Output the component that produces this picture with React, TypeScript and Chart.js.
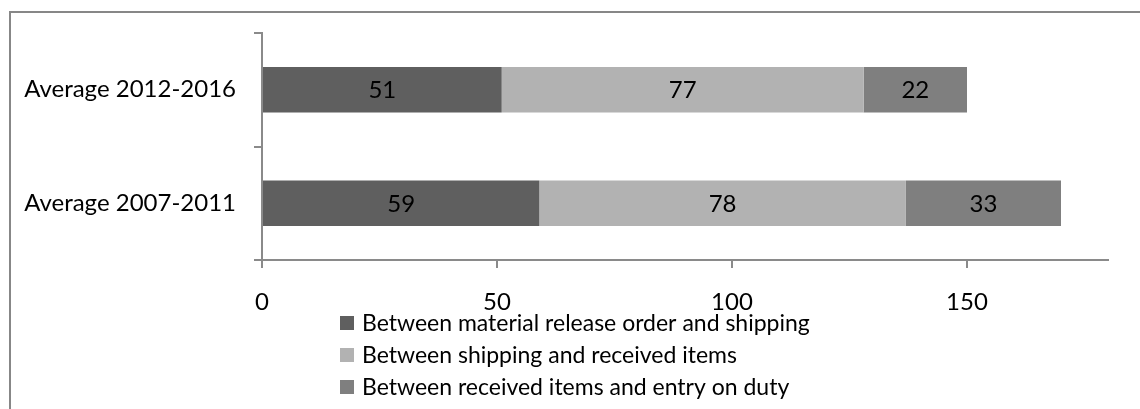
import React, { useEffect, useRef } from "react";
import { Chart, registerables } from "chart.js";

Chart.register(...registerables);

// Periods shown on the category axis (top to bottom)
const periods: string[] = ["Average 2012-2016", "Average 2007-2011"];

// Days spent in each stage of the process
const releaseToShipping: number[] = [51, 59];
const shippingToReceived: number[] = [77, 78];
const receivedToDuty: number[] = [22, 33];

const seriesNames: string[] = [
  "Between material release order and shipping",
  "Between shipping and received items",
  "Between received items and entry on duty",
];
const seriesColors: string[] = ["#5f5f5f", "#b2b2b2", "#7f7f7f"];

// Value axis
const axisMax = 180;
const axisStep = 50;

const FONT_FAMILY = "Lato, sans-serif";
const FONT_SIZE = 24;
const LEGEND_FONT_SIZE = 23;
const AXIS_COLOR = "#8a8a8a";

// Writes each segment's value in the middle of the segment
const valueLabels = {
  id: "valueLabels",
  afterDatasetsDraw(chart: Chart) {
    const ctx = chart.ctx;
    ctx.save();
    ctx.font = `${FONT_SIZE}px ${FONT_FAMILY}`;
    ctx.fillStyle = "#000";
    ctx.textAlign = "center";
    ctx.textBaseline = "middle";
    chart.data.datasets.forEach((ds, i) => {
      const meta = chart.getDatasetMeta(i);
      meta.data.forEach((el: any, j: number) => {
        const v = ds.data[j] as number;
        const cx = (el.x + el.base) / 2;
        ctx.fillText(String(v), cx, el.y + 1);
      });
    });
    ctx.restore();
  },
};

// Vertical legend listed under the value axis
const stackedLegend = {
  id: "stackedLegend",
  afterDraw(chart: Chart) {
    const ctx = chart.ctx;
    const boxX = 340;
    const textX = 362;
    const firstRow = 323;
    const rowGap = 32;
    const box = 14;
    ctx.save();
    ctx.font = `${LEGEND_FONT_SIZE}px ${FONT_FAMILY}`;
    ctx.textAlign = "left";
    ctx.textBaseline = "middle";
    chart.data.datasets.forEach((ds, i) => {
      const y = firstRow + i * rowGap;
      ctx.fillStyle = ds.backgroundColor as string;
      ctx.fillRect(boxX, y - box / 2, box, box);
      ctx.fillStyle = "#000";
      ctx.fillText(ds.label as string, textX, y + 1);
    });
    ctx.restore();
  },
};

export default function App() {
  const canvasRef = useRef<HTMLCanvasElement | null>(null);

  useEffect(() => {
    if (!canvasRef.current) return;
    const values = [releaseToShipping, shippingToReceived, receivedToDuty];
    const chart = new Chart(canvasRef.current, {
      type: "bar",
      data: {
        labels: periods,
        datasets: values.map((data, i) => ({
          label: seriesNames[i],
          data,
          backgroundColor: seriesColors[i],
          borderWidth: 0,
          categoryPercentage: 0.4,
          barPercentage: 1,
        })),
      },
      options: {
        indexAxis: "y",
        responsive: false,
        maintainAspectRatio: false,
        animation: false,
        layout: { padding: { top: 33, right: 32, left: 0, bottom: 0 } },
        plugins: {
          legend: { display: false },
          tooltip: { enabled: false },
          title: { display: false },
        },
        scales: {
          x: {
            stacked: true,
            min: 0,
            max: axisMax,
            ticks: {
              stepSize: axisStep,
              color: "#000",
              padding: 20,
              font: { family: FONT_FAMILY, size: FONT_SIZE },
            },
            grid: {
              drawOnChartArea: false,
              drawTicks: true,
              tickLength: 8,
              color: AXIS_COLOR,
              lineWidth: 2,
            },
            border: { display: true, color: AXIS_COLOR, width: 2 },
            afterBuildTicks(scale: any) {
              scale.ticks = scale.ticks.filter((t: any) => t.value % axisStep === 0);
            },
            afterFit(scale: any) {
              scale.height = 149;
            },
          },
          y: {
            stacked: true,
            ticks: {
              color: "#000",
              padding: 18,
              font: { family: FONT_FAMILY, size: FONT_SIZE },
            },
            grid: {
              offset: true,
              drawOnChartArea: false,
              drawTicks: true,
              tickLength: 8,
              color: AXIS_COLOR,
              lineWidth: 2,
            },
            border: { display: true, color: AXIS_COLOR, width: 2 },
            afterFit(scale: any) {
              scale.width = 262;
            },
          },
        },
      },
      plugins: [valueLabels, stackedLegend],
    });
    return () => chart.destroy();
  }, []);

  return (
    <div>
      <div
        style={{
          position: "absolute",
          left: 9,
          top: 11,
          width: 1131,
          height: 398,
          boxSizing: "border-box",
          borderLeft: "2px solid #878787",
          borderTop: "2px solid #878787",
        }}
      />
      <canvas
        ref={canvasRef}
        width={1140}
        height={409}
        style={{ position: "absolute", left: 0, top: 0, width: 1140, height: 409 }}
      />
    </div>
  );
}
